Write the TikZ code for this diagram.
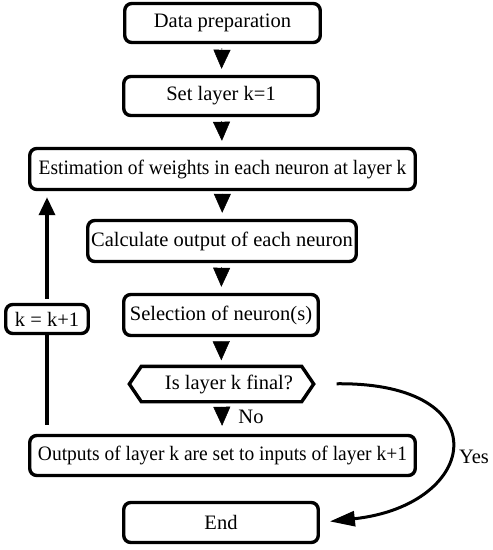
\documentclass[tikz,border=0pt]{standalone}
\usepackage{fontspec}
\setmainfont{Liberation Serif}
\usetikzlibrary{arrows.meta,calc}
\begin{document}
\begin{tikzpicture}[x=1pt,y=-1pt,
  box/.style={draw, line width=3.4pt, rounded corners=7pt, inner sep=0pt, align=center,
    font=\fontsize{20.5}{23}\selectfont},
  lbl/.style={inner sep=0pt, font=\fontsize{20.5}{23}\selectfont},
  flow/.style={line width=0.5pt, -{Triangle[width=17pt,length=19pt]}, shorten <=4pt, shorten >=6pt},
  back/.style={line width=3.4pt},
]
\useasboundingbox (0,0) rectangle (493,550);
\node[box, minimum width=195.5, minimum height=39] (data) at (222.5,23) {Data preparation};
\node[box, minimum width=194.5, minimum height=39] (set) at (221,96) {Set layer k=1};
\node[box, minimum width=385.5, minimum height=41] (est) at (222.5,169) {\scalebox{0.95}[1]{Estimation of weights in each neuron at layer k}};
\node[box, minimum width=268.5, minimum height=41] (calc) at (222,241) {Calculate output of each neuron};
\node[box, minimum width=194.5, minimum height=41] (sel) at (221,315) {Selection of neuron(s)};
\node[lbl, minimum width=184, minimum height=35] (hex) at (221.5,384) {};
\draw[line width=3.4pt, line join=miter] (hex.west) -- ($(hex.north west)+(12,0)$) -- ($(hex.north east)+(-12,0)$) -- (hex.east) -- ($(hex.south east)+(-12,0)$) -- ($(hex.south west)+(12,0)$) -- cycle;
\node[lbl] (hext) at (229,384) {Is layer k final?};
\node[box, minimum width=385.5, minimum height=40] (out) at (222.5,455.5) {\scalebox{0.95}[1]{Outputs of layer k are set to inputs of layer k+1}};
\node[box, minimum width=194.5, minimum height=40] (end) at (221,522.5) {End};
\node[box, minimum width=82.5, minimum height=29] (k) at (47,319) {k = k+1};
\node[lbl] (no) at (251,417) {No};
\node[lbl] (yes) at (474,457) {Yes};

\draw[flow] (data) -- (set);
\draw[flow] (set) -- (est);
\draw[flow] (est) -- (calc);
\draw[flow] (calc) -- (sel);
\draw[flow] (sel) -- (hex);
\draw[flow, shorten <=6pt, shorten >=8pt] (hex) -- (out);

\draw[back, shorten <=9pt] (k.south |- out.north) -- (k.south);
\draw[back, -{Triangle[width=16pt,length=18pt]}, shorten <=4pt, shorten >=6pt] (k.north) -- (k.north |- est.south);

\draw[line width=3pt, -{Triangle[width=15pt,length=25pt]}, shorten <=23pt, shorten >=10pt]
  (hex.east) .. controls (500,382) and (480,505) .. (end.east);
\end{tikzpicture}
\end{document}
